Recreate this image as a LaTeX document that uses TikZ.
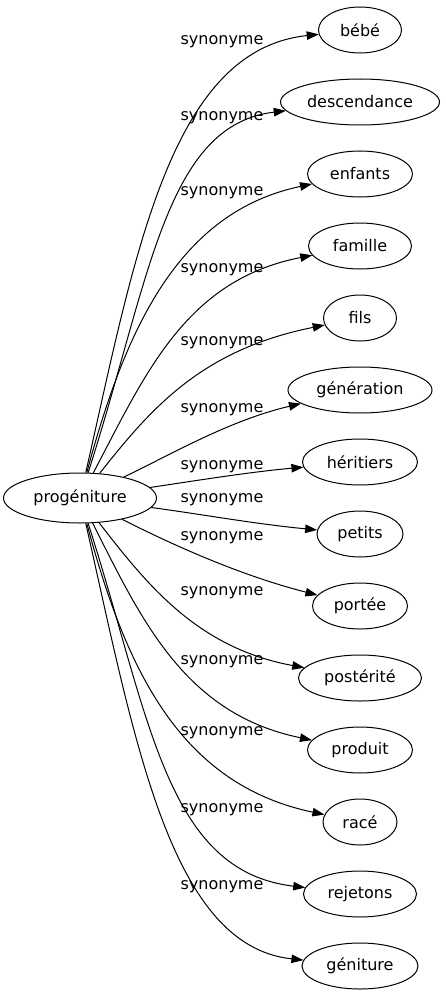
\documentclass[tikz,border=0pt]{standalone}
\usepackage{fontspec}
\setmainfont{DejaVu Sans}
\usetikzlibrary{shapes.geometric,arrows.meta}
\begin{document}
\begin{tikzpicture}[x=1pt,y=-1pt,
  word/.style={draw, ellipse, line width=1pt, minimum height=46pt, inner sep=0pt, font=\fontsize{16}{19}\selectfont},
  lab/.style={inner sep=0pt, font=\fontsize{16}{19}\selectfont},
  syn/.style={draw, line width=1pt, -{Triangle[length=12pt,width=8.5pt]}}]
\useasboundingbox (0,0) rectangle (445,995);
\node[word, minimum width=153pt, minimum height=50pt] (prog) at (80,498) {progéniture};
\node[word, minimum width=83pt]  (n0)  at (360,30)  {bébé};
\node[word, minimum width=159pt] (n1)  at (360,102) {descendance};
\node[word, minimum width=105pt] (n2)  at (360,174) {enfants};
\node[word, minimum width=103pt] (n3)  at (360,246) {famille};
\node[word, minimum width=73pt]  (n4)  at (360,318) {fils};
\node[word, minimum width=144pt] (n5)  at (360,390) {génération};
\node[word, minimum width=115pt] (n6)  at (360,462) {héritiers};
\node[word, minimum width=86pt]  (n7)  at (360,534) {petits};
\node[word, minimum width=95pt]  (n8)  at (360,606) {portée};
\node[word, minimum width=123pt] (n9)  at (360,678) {postérité};
\node[word, minimum width=105pt] (n10) at (360,750) {produit};
\node[word, minimum width=74pt]  (n11) at (360,822) {racé};
\node[word, minimum width=113pt] (n12) at (360,894) {rejetons};
\node[word, minimum width=116pt] (n13) at (360,966) {géniture};

\draw[syn] (prog) .. controls (135,255) and (170,50) .. (n0);
\draw[syn] (prog) .. controls (150,280) and (165,125) .. (n1);
\draw[syn] (prog) .. controls (125,330) and (178,212) .. (n2);
\draw[syn] (prog) .. controls (145,375) and (185,280) .. (n3);
\draw[syn] (prog) .. controls (150,410) and (200,350) .. (n4);
\draw[syn] (prog) .. controls (170,455) and (230,420) .. (n5);
\draw[syn] (prog) .. controls (200,480) and (250,472) .. (n6);
\draw[syn] (prog) .. controls (200,514) and (255,524) .. (n7);
\draw[syn] (prog) .. controls (165,541) and (235,574) .. (n8);
\draw[syn] (prog) .. controls (148,586) and (198,648) .. (n9);
\draw[syn] (prog) .. controls (142,621) and (185,714) .. (n10);
\draw[syn] (prog) .. controls (125,666) and (178,784) .. (n11);
\draw[syn] (prog) .. controls (150,716) and (165,871) .. (n12);
\draw[syn] (prog) .. controls (135,741) and (170,946) .. (n13);

\node[lab] (l0)  at (222,42)  {synonyme};
\node[lab] (l1)  at (222,118) {synonyme};
\node[lab] (l2)  at (222,193) {synonyme};
\node[lab] (l3)  at (222,270) {synonyme};
\node[lab] (l4)  at (222,343) {synonyme};
\node[lab] (l5)  at (222,410) {synonyme};
\node[lab] (l6)  at (222,467) {synonyme};
\node[lab] (l7)  at (222,500) {synonyme};
\node[lab] (l8)  at (222,538) {synonyme};
\node[lab] (l9)  at (222,593) {synonyme};
\node[lab] (l10) at (222,662) {synonyme};
\node[lab] (l11) at (222,733) {synonyme};
\node[lab] (l12) at (222,810) {synonyme};
\node[lab] (l13) at (222,887) {synonyme};
\end{tikzpicture}
\end{document}
